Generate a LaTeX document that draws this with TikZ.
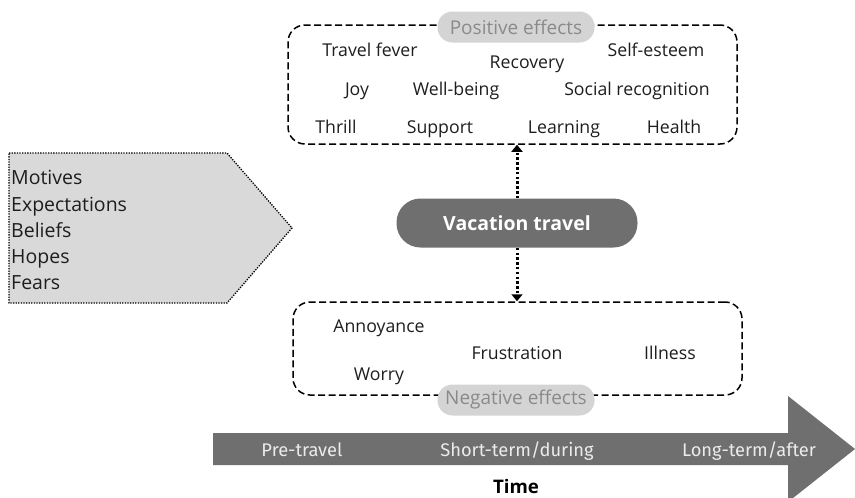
\documentclass[tikz,border=0pt]{standalone}
\usepackage{fontspec}
\setmainfont{Open Sans}
\newfontfamily\condfont{Fira Sans}
\usetikzlibrary{arrows.meta}
\definecolor{darkfill}{HTML}{6F6F6F}
\definecolor{lightfill}{HTML}{D9D9D9}
\definecolor{pillfill}{HTML}{D4D4D4}
\definecolor{labgray}{HTML}{8A8A8A}
\definecolor{wordcol}{HTML}{1E1E1E}
\begin{document}
\begin{tikzpicture}[x=1pt,y=-1pt,
  word/.style={font=\fontsize{17.7}{20}\selectfont, text=wordcol, inner sep=0pt, anchor=base},
  leftword/.style={font=\fontsize{19.5}{22}\selectfont, text=wordcol, inner sep=0pt, anchor=base west},
  effbox/.style={draw=black, line width=1.5pt, dash pattern=on 7pt off 3.5pt, rounded corners=17pt, inner sep=0pt},
  labpill/.style={fill=pillfill, rounded corners=15pt, minimum width=157pt, minimum height=31pt, inner sep=0pt, text=labgray, font=\fontsize{19}{21}\selectfont},
  mainpill/.style={fill=darkfill, rounded corners=24pt, minimum width=241pt, minimum height=49pt, inner sep=0pt, text=white, font=\bfseries\fontsize{19.5}{22}\selectfont},
  dotarrow/.style={line width=3pt, dash pattern=on 2.5pt off 2.3pt, -{Triangle[length=7pt,width=11pt]}},
  timeword/.style={font=\condfont\fontsize{18.3}{21}\selectfont, text=white!92!black, inner sep=0pt, anchor=base}
]
\useasboundingbox (0,0) rectangle (855,498);

% left pentagon
\draw[fill=lightfill, line width=1.3pt, dash pattern=on 1.3pt off 1.3pt]
  (9,153) -- (227,153) -- (292,228) -- (227,303) -- (9,303) -- cycle;
\node[leftword] (mot) at (11,184) {Motives};
\node[leftword] (exp) at (11,211) {Expectations};
\node[leftword] (bel) at (11,237) {Beliefs};
\node[leftword] (hop) at (11,263) {Hopes};
\node[leftword] (fea) at (11,289) {Fears};

% top box
\node[effbox, minimum width=449pt, minimum height=119pt] (tb) at (512.5,84.5) {};
\node[labpill] (pos) at (516,27) {Positive effects};
\node[word] (w1) at (370,56) {Travel fever};
\node[word] (w2) at (527,68) {Recovery};
\node[word] (w3) at (656,56) {Self-esteem};
\node[word] (w4) at (357,95) {Joy};
\node[word] (w5) at (456,95) {Well-being};
\node[word] (w6) at (637,95) {Social recognition};
\node[word] (w7) at (336,133) {Thrill};
\node[word] (w8) at (440,133) {Support};
\node[word] (w9) at (564,133) {Learning};
\node[word] (w10) at (674,133) {Health};

% bottom box
\node[effbox, minimum width=449pt, minimum height=93pt] (bb) at (517.5,348.5) {};
\node[labpill] (neg) at (516,400) {Negative effects};
\node[word] (n1) at (379,332) {Annoyance};
\node[word] (n2) at (517,359) {Frustration};
\node[word] (n3) at (670,359) {Illness};
\node[word] (n4) at (379,380) {Worry};

% vacation travel
\node[mainpill] (vt) at (517,223) {Vacation travel};
\draw[dotarrow] (vt.north) -- (vt.north |- tb.south);
\draw[dotarrow] (vt.south) -- (vt.south |- bb.north);

% time arrow
\fill[darkfill] (213,433) -- (788,433) -- (788,396) -- (855,449) -- (788,502) -- (788,465) -- (213,465) -- cycle;
\node[timeword] (t1) at (302,456.5) {Pre-travel};
\node[timeword] (t2) at (517,456.5) {Short-term/during};
\node[timeword] (t3) at (749,456.5) {Long-term/after};
\node[font=\bfseries\fontsize{18.7}{21}\selectfont, text=black, inner sep=0pt, anchor=base] (time) at (516,493) {Time};
\end{tikzpicture}
\end{document}
